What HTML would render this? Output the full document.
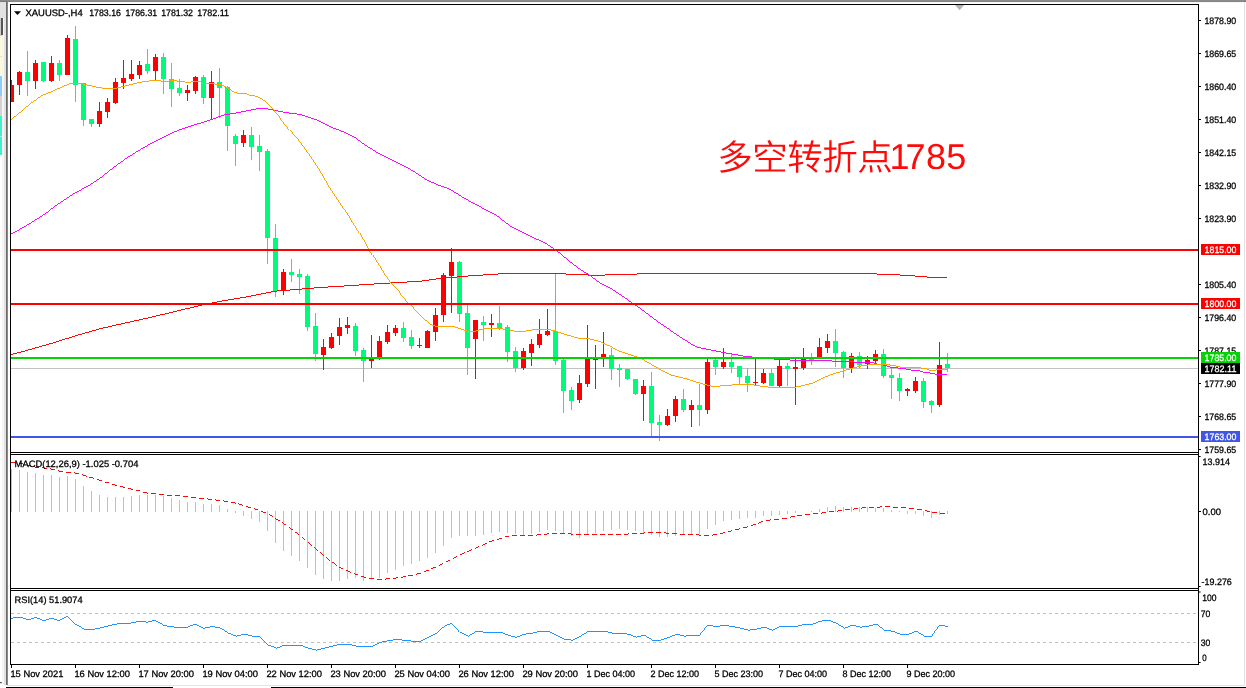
<!DOCTYPE html>
<html lang="zh"><head><meta charset="utf-8"><title>XAUUSD H4</title>
<style>html,body{margin:0;padding:0;background:#fff;overflow:hidden}svg{display:block;will-change:transform}text{stroke:#000;stroke-width:.28px}text.w{stroke:#fff}text.b{stroke:none}</style></head>
<body>
<svg width="1246" height="688" viewBox="0 0 1246 688" font-family='"Liberation Sans", "Noto Sans CJK SC", sans-serif' font-size="9.3" text-rendering="geometricPrecision">
<defs><clipPath id="cm"><rect x="11" y="5" width="1187" height="447"/></clipPath><clipPath id="cd"><rect x="11" y="455" width="1187" height="133"/></clipPath><clipPath id="cr"><rect x="11" y="591" width="1187" height="73"/></clipPath><linearGradient id="tg" x1="0" y1="0" x2="0" y2="1"><stop offset="0" stop-color="#9a9a9a"/><stop offset="1" stop-color="#5e5e5e"/></linearGradient></defs>
<rect width="1246" height="688" fill="#fff"/>
<rect x="0" y="0" width="1246" height="1.9" fill="url(#tg)"/>
<g shape-rendering="crispEdges">
<rect x="0" y="2" width="2" height="683" fill="#fff"/>
<rect x="2" y="2" width="2" height="683" fill="#f6f4f4"/>
<rect x="4" y="2" width="2" height="683" fill="#e2e2e2"/>
<rect x="0" y="2" width="6" height="16" fill="#e2e2e2"/>
<rect x="0" y="18" width="2.3" height="18" fill="#cacaca"/>
<rect x="1.4" y="18" width="1.2" height="17" fill="#555"/>
<rect x="0" y="36" width="2.3" height="40" fill="#fdfbd2"/>
<rect x="0" y="56" width="2.3" height="1" fill="#e4e2c8"/>
<rect x="0" y="76" width="2.3" height="20" fill="#8fcdf7"/>
<rect x="0" y="96" width="2.3" height="20" fill="#d2d2d2"/>
<rect x="0" y="116" width="2.3" height="39" fill="#44efd0"/>
<rect x="0" y="136" width="2.3" height="1" fill="#b8f4e8"/>
<rect x="6" y="2" width="1" height="683" fill="#6a6a6a"/>
<rect x="7" y="2" width="1" height="683" fill="#8a8a8a"/>
</g>
<rect x="8" y="1.9" width="1236" height="0.9" fill="#f4f4f4"/>
<rect x="1244" y="2" width="1" height="684" fill="#e4e4e4"/>
<rect x="7" y="685" width="1238" height="1" fill="#e4e4e4"/>
<rect x="6" y="687" width="167" height="1" fill="#000"/>
<rect x="271" y="687" width="975" height="1" fill="#000"/>
<rect x="0" y="682" width="1.7" height="1.2" fill="#444"/>
<g clip-path="url(#cm)">
<rect x="11" y="368" width="1187" height="1" fill="#c2c2c2"/>
<g shape-rendering="crispEdges">
<rect x="11" y="80" width="1" height="21.5" fill="#ff0000"/>
<rect x="9" y="85" width="5" height="16.5" fill="#ff0000"/>
<rect x="19" y="70.8" width="1" height="24.2" fill="#ff0000"/>
<rect x="17" y="72" width="5" height="13.3" fill="#ff0000"/>
<rect x="27" y="50.8" width="1" height="45.2" fill="#00fa7a"/>
<rect x="25" y="72" width="5" height="9.3" fill="#00fa7a"/>
<rect x="35" y="59.7" width="1" height="29.3" fill="#ff0000"/>
<rect x="33" y="62.7" width="5" height="18.6" fill="#ff0000"/>
<rect x="43" y="62" width="1" height="19.7" fill="#00fa7a"/>
<rect x="41" y="62" width="5" height="18.8" fill="#00fa7a"/>
<rect x="51" y="55.8" width="1" height="25.9" fill="#ff0000"/>
<rect x="49" y="63" width="5" height="17.8" fill="#ff0000"/>
<rect x="59" y="59.7" width="1" height="21.3" fill="#00fa7a"/>
<rect x="57" y="63" width="5" height="11.7" fill="#00fa7a"/>
<rect x="67" y="35" width="1" height="39.7" fill="#ff0000"/>
<rect x="65" y="38" width="5" height="36.7" fill="#ff0000"/>
<rect x="75" y="26" width="1" height="76" fill="#00fa7a"/>
<rect x="73" y="39.2" width="5" height="45.5" fill="#00fa7a"/>
<rect x="83" y="83" width="1" height="42.8" fill="#00fa7a"/>
<rect x="81" y="83" width="5" height="36.5" fill="#00fa7a"/>
<rect x="91" y="118.8" width="1" height="7.9" fill="#00fa7a"/>
<rect x="89" y="118.8" width="5" height="4.9" fill="#00fa7a"/>
<rect x="99" y="101.8" width="1" height="24.9" fill="#ff0000"/>
<rect x="97" y="110.8" width="5" height="12.9" fill="#ff0000"/>
<rect x="107" y="98" width="1" height="19.5" fill="#ff0000"/>
<rect x="105" y="101.7" width="5" height="9.8" fill="#ff0000"/>
<rect x="115" y="78" width="1" height="26" fill="#ff0000"/>
<rect x="113" y="81.7" width="5" height="21" fill="#ff0000"/>
<rect x="123" y="59.7" width="1" height="29.3" fill="#ff0000"/>
<rect x="121" y="77.5" width="5" height="5.5" fill="#ff0000"/>
<rect x="131" y="59.7" width="1" height="21.1" fill="#ff0000"/>
<rect x="129" y="73.7" width="5" height="5" fill="#ff0000"/>
<rect x="139" y="60.8" width="1" height="18.2" fill="#ff0000"/>
<rect x="137" y="65" width="5" height="9.7" fill="#ff0000"/>
<rect x="147" y="49.2" width="1" height="24.5" fill="#00fa7a"/>
<rect x="145" y="63.7" width="5" height="7.1" fill="#00fa7a"/>
<rect x="155" y="54.2" width="1" height="25.5" fill="#ff0000"/>
<rect x="153" y="57" width="5" height="13.8" fill="#ff0000"/>
<rect x="163" y="53" width="1" height="41" fill="#00fa7a"/>
<rect x="161" y="57" width="5" height="22" fill="#00fa7a"/>
<rect x="171" y="63" width="1" height="44" fill="#00fa7a"/>
<rect x="169" y="79" width="5" height="9.8" fill="#00fa7a"/>
<rect x="179" y="79" width="1" height="16.8" fill="#00fa7a"/>
<rect x="177" y="88" width="5" height="4.8" fill="#00fa7a"/>
<rect x="187" y="85" width="1" height="16" fill="#ff0000"/>
<rect x="185" y="90" width="5" height="2.8" fill="#ff0000"/>
<rect x="195" y="75.8" width="1" height="18.2" fill="#ff0000"/>
<rect x="193" y="76.9" width="5" height="13.9" fill="#ff0000"/>
<rect x="203" y="75" width="1" height="29" fill="#00fa7a"/>
<rect x="201" y="76.9" width="5" height="20.9" fill="#00fa7a"/>
<rect x="211" y="71" width="1" height="48" fill="#ff0000"/>
<rect x="209" y="82" width="5" height="15.8" fill="#ff0000"/>
<rect x="219" y="68" width="1" height="50" fill="#00fa7a"/>
<rect x="217" y="82" width="5" height="5.8" fill="#00fa7a"/>
<rect x="227" y="85.8" width="1" height="65.2" fill="#00fa7a"/>
<rect x="225" y="86.7" width="5" height="38.9" fill="#00fa7a"/>
<rect x="235" y="133.7" width="1" height="32.3" fill="#00fa7a"/>
<rect x="233" y="136" width="5" height="8" fill="#00fa7a"/>
<rect x="243" y="130" width="1" height="17" fill="#ff0000"/>
<rect x="241" y="135" width="5" height="8" fill="#ff0000"/>
<rect x="251" y="127" width="1" height="33" fill="#00fa7a"/>
<rect x="249" y="135" width="5" height="12" fill="#00fa7a"/>
<rect x="259" y="135" width="1" height="36" fill="#00fa7a"/>
<rect x="257" y="146" width="5" height="6" fill="#00fa7a"/>
<rect x="267" y="148.8" width="1" height="115.2" fill="#00fa7a"/>
<rect x="265" y="150.8" width="5" height="86.7" fill="#00fa7a"/>
<rect x="275" y="223.8" width="1" height="72.9" fill="#00fa7a"/>
<rect x="273" y="237.8" width="5" height="53.4" fill="#00fa7a"/>
<rect x="283" y="269.2" width="1" height="25.5" fill="#ff0000"/>
<rect x="281" y="272" width="5" height="19.2" fill="#ff0000"/>
<rect x="291" y="258.8" width="1" height="22.9" fill="#00fa7a"/>
<rect x="289" y="272" width="5" height="3" fill="#00fa7a"/>
<rect x="299" y="269.2" width="1" height="24.6" fill="#00fa7a"/>
<rect x="297" y="274.2" width="5" height="2.5" fill="#00fa7a"/>
<rect x="307" y="274.2" width="1" height="56.3" fill="#00fa7a"/>
<rect x="305" y="275.8" width="5" height="50.9" fill="#00fa7a"/>
<rect x="315" y="313" width="1" height="47.5" fill="#00fa7a"/>
<rect x="313" y="325.8" width="5" height="27.9" fill="#00fa7a"/>
<rect x="323" y="338.7" width="1" height="30.8" fill="#ff0000"/>
<rect x="321" y="346.7" width="5" height="8" fill="#ff0000"/>
<rect x="331" y="332.8" width="1" height="15.9" fill="#ff0000"/>
<rect x="329" y="336.7" width="5" height="11.1" fill="#ff0000"/>
<rect x="339" y="317.8" width="1" height="26.7" fill="#ff0000"/>
<rect x="337" y="326.7" width="5" height="8.8" fill="#ff0000"/>
<rect x="347" y="317" width="1" height="16.7" fill="#ff0000"/>
<rect x="345" y="325" width="5" height="2.5" fill="#ff0000"/>
<rect x="355" y="323" width="1" height="32.5" fill="#00fa7a"/>
<rect x="353" y="325.8" width="5" height="24.7" fill="#00fa7a"/>
<rect x="363" y="347.8" width="1" height="33.9" fill="#00fa7a"/>
<rect x="361" y="349.7" width="5" height="10.8" fill="#00fa7a"/>
<rect x="371" y="335" width="1" height="32.8" fill="#ff0000"/>
<rect x="369" y="358.5" width="5" height="2" fill="#ff0000"/>
<rect x="379" y="335.8" width="1" height="23.7" fill="#ff0000"/>
<rect x="377" y="340.8" width="5" height="17.2" fill="#ff0000"/>
<rect x="387" y="325" width="1" height="18.7" fill="#ff0000"/>
<rect x="385" y="331.7" width="5" height="10" fill="#ff0000"/>
<rect x="395" y="325" width="1" height="10.5" fill="#ff0000"/>
<rect x="393" y="327.8" width="5" height="5" fill="#ff0000"/>
<rect x="403" y="321.7" width="1" height="20" fill="#00fa7a"/>
<rect x="401" y="327.8" width="5" height="9.7" fill="#00fa7a"/>
<rect x="411" y="330" width="1" height="18.7" fill="#00fa7a"/>
<rect x="409" y="337" width="5" height="8.8" fill="#00fa7a"/>
<rect x="419" y="338" width="1" height="9.8" fill="#ff0000"/>
<rect x="417" y="344.7" width="5" height="1.1" fill="#ff0000"/>
<rect x="427" y="330" width="1" height="17.8" fill="#ff0000"/>
<rect x="425" y="331.2" width="5" height="16.6" fill="#ff0000"/>
<rect x="435" y="308" width="1" height="32.5" fill="#ff0000"/>
<rect x="433" y="315" width="5" height="16.5" fill="#ff0000"/>
<rect x="443" y="273" width="1" height="48.5" fill="#ff0000"/>
<rect x="441" y="275" width="5" height="39.6" fill="#ff0000"/>
<rect x="451" y="248" width="1" height="64.5" fill="#ff0000"/>
<rect x="449" y="262" width="5" height="13.5" fill="#ff0000"/>
<rect x="459" y="260.8" width="1" height="60.7" fill="#00fa7a"/>
<rect x="457" y="262" width="5" height="51.5" fill="#00fa7a"/>
<rect x="467" y="305" width="1" height="69.7" fill="#00fa7a"/>
<rect x="465" y="312.8" width="5" height="35" fill="#00fa7a"/>
<rect x="475" y="320" width="1" height="58.7" fill="#ff0000"/>
<rect x="473" y="320" width="5" height="18.5" fill="#ff0000"/>
<rect x="483" y="315.8" width="1" height="24.7" fill="#00fa7a"/>
<rect x="481" y="322" width="5" height="2.7" fill="#00fa7a"/>
<rect x="491" y="314" width="1" height="22.8" fill="#ff0000"/>
<rect x="489" y="323" width="5" height="1.8" fill="#ff0000"/>
<rect x="499" y="306" width="1" height="23.8" fill="#00fa7a"/>
<rect x="497" y="323" width="5" height="4.6" fill="#00fa7a"/>
<rect x="507" y="324.7" width="1" height="37" fill="#00fa7a"/>
<rect x="505" y="326.7" width="5" height="25" fill="#00fa7a"/>
<rect x="515" y="347" width="1" height="24.7" fill="#00fa7a"/>
<rect x="513" y="350.8" width="5" height="16.7" fill="#00fa7a"/>
<rect x="523" y="347.8" width="1" height="21.9" fill="#ff0000"/>
<rect x="521" y="350.8" width="5" height="17" fill="#ff0000"/>
<rect x="531" y="338.8" width="1" height="26.7" fill="#ff0000"/>
<rect x="529" y="343.7" width="5" height="8.8" fill="#ff0000"/>
<rect x="539" y="318.8" width="1" height="29" fill="#ff0000"/>
<rect x="537" y="333.8" width="5" height="10.9" fill="#ff0000"/>
<rect x="547" y="308.8" width="1" height="27" fill="#ff0000"/>
<rect x="545" y="330.8" width="5" height="3.9" fill="#ff0000"/>
<rect x="555" y="273.7" width="1" height="91" fill="#00fa7a"/>
<rect x="553" y="330.5" width="5" height="30" fill="#00fa7a"/>
<rect x="563" y="358.7" width="1" height="54.6" fill="#00fa7a"/>
<rect x="561" y="359.7" width="5" height="30.8" fill="#00fa7a"/>
<rect x="571" y="386.7" width="1" height="22.8" fill="#00fa7a"/>
<rect x="569" y="389.7" width="5" height="11.6" fill="#00fa7a"/>
<rect x="579" y="375" width="1" height="28.3" fill="#ff0000"/>
<rect x="577" y="382.8" width="5" height="16.7" fill="#ff0000"/>
<rect x="587" y="325" width="1" height="62" fill="#ff0000"/>
<rect x="585" y="357.5" width="5" height="26.5" fill="#ff0000"/>
<rect x="595" y="344.7" width="1" height="44" fill="#ff0000"/>
<rect x="593" y="358.3" width="5" height="1.4" fill="#ff0000"/>
<rect x="603" y="331.7" width="1" height="35" fill="#ff0000"/>
<rect x="601" y="354.2" width="5" height="3.3" fill="#ff0000"/>
<rect x="611" y="347.8" width="1" height="32.2" fill="#00fa7a"/>
<rect x="609" y="354.7" width="5" height="14.3" fill="#00fa7a"/>
<rect x="619" y="364" width="1" height="23" fill="#00fa7a"/>
<rect x="617" y="368" width="5" height="2" fill="#00fa7a"/>
<rect x="627" y="368.5" width="1" height="11.5" fill="#00fa7a"/>
<rect x="625" y="369" width="5" height="10" fill="#00fa7a"/>
<rect x="635" y="378.7" width="1" height="16" fill="#00fa7a"/>
<rect x="633" y="378.7" width="5" height="15" fill="#00fa7a"/>
<rect x="643" y="379.8" width="1" height="40.7" fill="#ff0000"/>
<rect x="641" y="385.8" width="5" height="7.9" fill="#ff0000"/>
<rect x="651" y="371.8" width="1" height="64" fill="#00fa7a"/>
<rect x="649" y="385.8" width="5" height="36.7" fill="#00fa7a"/>
<rect x="659" y="415" width="1" height="26.3" fill="#00fa7a"/>
<rect x="657" y="421.7" width="5" height="3" fill="#00fa7a"/>
<rect x="667" y="408.8" width="1" height="17" fill="#ff0000"/>
<rect x="665" y="415.8" width="5" height="9.2" fill="#ff0000"/>
<rect x="675" y="395.6" width="1" height="26.1" fill="#ff0000"/>
<rect x="673" y="398.7" width="5" height="17.1" fill="#ff0000"/>
<rect x="683" y="388.8" width="1" height="22.7" fill="#00fa7a"/>
<rect x="681" y="398.7" width="5" height="10.9" fill="#00fa7a"/>
<rect x="691" y="399.7" width="1" height="27" fill="#ff0000"/>
<rect x="689" y="404.7" width="5" height="5.7" fill="#ff0000"/>
<rect x="699" y="383.7" width="1" height="41.8" fill="#00fa7a"/>
<rect x="697" y="404.9" width="5" height="4.7" fill="#00fa7a"/>
<rect x="707" y="359.2" width="1" height="54.5" fill="#ff0000"/>
<rect x="705" y="362.2" width="5" height="47.5" fill="#ff0000"/>
<rect x="715" y="358.8" width="1" height="15.9" fill="#00fa7a"/>
<rect x="713" y="360" width="5" height="6.7" fill="#00fa7a"/>
<rect x="723" y="348" width="1" height="20.7" fill="#ff0000"/>
<rect x="721" y="361.7" width="5" height="5" fill="#ff0000"/>
<rect x="731" y="354.2" width="1" height="18.3" fill="#00fa7a"/>
<rect x="729" y="361.7" width="5" height="5" fill="#00fa7a"/>
<rect x="739" y="365.8" width="1" height="17.9" fill="#00fa7a"/>
<rect x="737" y="365.8" width="5" height="10.9" fill="#00fa7a"/>
<rect x="747" y="368.3" width="1" height="23.4" fill="#00fa7a"/>
<rect x="745" y="375.8" width="5" height="7.2" fill="#00fa7a"/>
<rect x="755" y="358.8" width="1" height="26.2" fill="#ff0000"/>
<rect x="753" y="381.7" width="5" height="1.3" fill="#ff0000"/>
<rect x="763" y="368.8" width="1" height="14.9" fill="#ff0000"/>
<rect x="761" y="372.8" width="5" height="10.2" fill="#ff0000"/>
<rect x="771" y="368.8" width="1" height="17" fill="#00fa7a"/>
<rect x="769" y="372.8" width="5" height="13" fill="#00fa7a"/>
<rect x="779" y="359.5" width="1" height="27.3" fill="#ff0000"/>
<rect x="777" y="365.8" width="5" height="20" fill="#ff0000"/>
<rect x="787" y="363" width="1" height="22.5" fill="#00fa7a"/>
<rect x="785" y="365.8" width="5" height="2.9" fill="#00fa7a"/>
<rect x="795" y="358.8" width="1" height="45.9" fill="#ff0000"/>
<rect x="793" y="366.8" width="5" height="1.9" fill="#ff0000"/>
<rect x="803" y="348" width="1" height="21.7" fill="#ff0000"/>
<rect x="801" y="358.8" width="5" height="8.7" fill="#ff0000"/>
<rect x="811" y="353" width="1" height="11.7" fill="#00fa7a"/>
<rect x="809" y="358.8" width="5" height="1.2" fill="#00fa7a"/>
<rect x="819" y="337.8" width="1" height="21.4" fill="#ff0000"/>
<rect x="817" y="347" width="5" height="12.2" fill="#ff0000"/>
<rect x="827" y="333.8" width="1" height="18.7" fill="#ff0000"/>
<rect x="825" y="340.8" width="5" height="6.7" fill="#ff0000"/>
<rect x="835" y="328.8" width="1" height="37.9" fill="#00fa7a"/>
<rect x="833" y="340.8" width="5" height="11.7" fill="#00fa7a"/>
<rect x="843" y="350.8" width="1" height="27" fill="#00fa7a"/>
<rect x="841" y="351.7" width="5" height="15.8" fill="#00fa7a"/>
<rect x="851" y="352.8" width="1" height="20" fill="#ff0000"/>
<rect x="849" y="356.2" width="5" height="11.3" fill="#ff0000"/>
<rect x="859" y="351.7" width="1" height="16.6" fill="#00fa7a"/>
<rect x="857" y="356.2" width="5" height="8.5" fill="#00fa7a"/>
<rect x="867" y="355.8" width="1" height="12.9" fill="#ff0000"/>
<rect x="865" y="360" width="5" height="3.7" fill="#ff0000"/>
<rect x="875" y="350" width="1" height="12.5" fill="#ff0000"/>
<rect x="873" y="353.8" width="5" height="6.7" fill="#ff0000"/>
<rect x="883" y="348.8" width="1" height="29.5" fill="#00fa7a"/>
<rect x="881" y="353.8" width="5" height="21.7" fill="#00fa7a"/>
<rect x="891" y="367.5" width="1" height="31.2" fill="#00fa7a"/>
<rect x="889" y="375" width="5" height="3.3" fill="#00fa7a"/>
<rect x="899" y="373" width="1" height="27.8" fill="#00fa7a"/>
<rect x="897" y="377.8" width="5" height="12.7" fill="#00fa7a"/>
<rect x="907" y="387.5" width="1" height="8.3" fill="#ff0000"/>
<rect x="905" y="388.8" width="5" height="1.7" fill="#ff0000"/>
<rect x="915" y="376.7" width="1" height="15.8" fill="#ff0000"/>
<rect x="913" y="380.8" width="5" height="9.7" fill="#ff0000"/>
<rect x="923" y="377.8" width="1" height="30" fill="#00fa7a"/>
<rect x="921" y="380.8" width="5" height="20.9" fill="#00fa7a"/>
<rect x="931" y="399.7" width="1" height="12.8" fill="#00fa7a"/>
<rect x="929" y="400.8" width="5" height="3.7" fill="#00fa7a"/>
<rect x="939" y="342" width="1" height="64.7" fill="#ff0000"/>
<rect x="937" y="364.7" width="5" height="39.8" fill="#ff0000"/>
<rect x="947" y="353" width="1" height="18.7" fill="#00fa7a"/>
<rect x="945" y="363.8" width="5" height="4.5" fill="#00fa7a"/>
</g>
<polyline points="11,354.6 30,349.6 50,343.8 75,336 100,328.8 125,323 150,317.5 175,311.5 200,305.5 208,303.8 225,300.5 250,296.3 275,291.2 290,290 310,288.3 328,287 353,285.4 396,282.6 420,281.3 440,278.5 470,275.8 500,273.9 530,273.5 560,273.6 575,274.6 600,275.4 615,274.3 660,273.7 720,273.3 870,273.3 880,274.3 900,275 915,276 930,277.3 946.5,278" fill="none" stroke="#ff0000" stroke-width="0.98" shape-rendering="crispEdges"/>
<polyline points="11,234.2 25,226.5 44,214.7 58,204 64,200 75,193 88,186 100,178.3 112,168.8 125,159.2 138,151 150,144 162,138 171,133.3 181,129.3 192,125.5 202,122.6 213,119 223,115.2 233,113.5 244,111.4 254,109.3 259,108.4 264,108.3 271,109.7 280,111.4 285,112.5 300,114.4 315,119.2 330,126.7 345,132.5 355,137.5 365,145 380,154.2 397,162.5 413,170.8 427,180 438,185 450,189.2 463,197.5 480,206.7 497,215.8 510,225.8 530,235.8 547,244.2 557,250.8 573,264.2 580,269.2 590,275.5 600,283 610,288 628,300 640,308.3 650,315.8 660,323.3 670,330 680,336.7 690,343.3 698,347.5 708,349.4 715,350.8 730,353.7 745,356.3 760,357.8 776,359.2 790,360 810,360 825,360.5 835,361.2 848,361.3 856,362.3 871,362.4 875,363.2 879,364.6 885,365.2 890,367 895,367.5 899,368.2 903,368.5 908,369.4 912,370.2 920,370.9 924,372.2 928,372.6 932,373.6 936,374.2 946.5,374.5" fill="none" stroke="#ff00ff" stroke-width="0.98" shape-rendering="crispEdges"/>
<polyline points="11,119.8 20,112.5 30,104 41,96 50,92.3 60,87.8 70,83.7 75,83.2 83,84 95,86.8 106,88.6 115,88.5 128,85.3 140,82.3 147,81.2 153,80.7 159,80.7 163,81.5 168,81.6 170,80.6 175,80.5 178,81.3 183,81.4 186,82.4 190,82.4 193,81.4 200,81.4 203,83.5 213,83.7 218,84.5 221,84.7 225,86.4 230,89.5 235,92.6 240,93.6 246,93.7 250,95.6 255,95.8 262,98.7 270,105.8 280,117.5 290,130 300,141.7 310,155.8 320,170.8 330,188.3 340,203.3 350,217.5 360,233.3 368,247.5 375,258.3 385,274.7 390,281.7 400,292.5 410,304.2 420,315 430,324.2 437,326.7 452,326 460,328.5 468,331.2 475,331.2 483,329 495,328 505,329.2 515,331.2 525,331.2 535,329.5 548,329.3 555,330.8 565,334.5 578,338 590,339 600,341.5 610,346.2 620,351.5 632,355.2 642,359 652,364.8 662,370.5 672,375.3 685,378.5 695,381.7 703,384 712,386.3 725,385.8 735,384.7 750,384.2 760,386 770,387.2 785,387.5 795,387.2 802,385.8 812,383.3 822,378.3 832,374.2 842,371.3 852,368.3 862,365.8 872,364.4 880,364.4 890,365 893,365.3 897.6,366.3 902,367.5 919,367.6 926,368.8 930,370.2 935,370.3 938,369.2 946.5,369" fill="none" stroke="#ffa200" stroke-width="0.98" shape-rendering="crispEdges"/>
<rect x="11" y="249" width="1187" height="2" fill="#ff0000"/>
<rect x="11" y="303" width="1187" height="2" fill="#ff0000"/>
<rect x="11" y="357" width="1187" height="2" fill="#04d204"/>
<rect x="11" y="436" width="1187" height="2" fill="#4155e6"/>
</g>
<path d="M14 11.2h7l-3.5 3.9z" fill="#000"/>
<text y="16.1"><tspan x="25.5" textLength="57.2" lengthAdjust="spacingAndGlyphs">XAUUSD-,H4</tspan><tspan x="89.2" textLength="31.8" lengthAdjust="spacingAndGlyphs">1783.16</tspan><tspan x="125.4" textLength="31.8" lengthAdjust="spacingAndGlyphs">1786.31</tspan><tspan x="161.2" textLength="31.8" lengthAdjust="spacingAndGlyphs">1781.32</tspan><tspan x="197.2" textLength="31.8" lengthAdjust="spacingAndGlyphs">1782.11</tspan></text>
<path d="M955 5h9.2l-4.6 5.2z" fill="#b4b4b4"/>
<text class="b" y="169.9" font-size="35.5" font-weight="350" fill="#ff0a0a" x="717.2 752.24 787.28 822.32 857.36">多空转折点<tspan font-size="36" font-weight="400" dy="-0.7" x="889.6 905.6 925.9 946.3">1785</tspan></text>
<g clip-path="url(#cd)">
<g shape-rendering="crispEdges">
<rect x="11" y="468.5" width="1" height="43.3" fill="#c0c0c0"/>
<rect x="19" y="470" width="1" height="41.8" fill="#c0c0c0"/>
<rect x="27" y="471.7" width="1" height="40.1" fill="#c0c0c0"/>
<rect x="35" y="472.8" width="1" height="39" fill="#c0c0c0"/>
<rect x="43" y="474.7" width="1" height="37.1" fill="#c0c0c0"/>
<rect x="51" y="474.7" width="1" height="37.1" fill="#c0c0c0"/>
<rect x="59" y="476.7" width="1" height="35.1" fill="#c0c0c0"/>
<rect x="67" y="475.8" width="1" height="36" fill="#c0c0c0"/>
<rect x="75" y="478.7" width="1" height="33.1" fill="#c0c0c0"/>
<rect x="83" y="485.8" width="1" height="26" fill="#c0c0c0"/>
<rect x="91" y="490.8" width="1" height="21" fill="#c0c0c0"/>
<rect x="99" y="494.7" width="1" height="17.1" fill="#c0c0c0"/>
<rect x="107" y="496.7" width="1" height="15.1" fill="#c0c0c0"/>
<rect x="115" y="497" width="1" height="14.8" fill="#c0c0c0"/>
<rect x="123" y="496.7" width="1" height="15.1" fill="#c0c0c0"/>
<rect x="131" y="495.8" width="1" height="16" fill="#c0c0c0"/>
<rect x="139" y="495.3" width="1" height="16.5" fill="#c0c0c0"/>
<rect x="147" y="495.3" width="1" height="16.5" fill="#c0c0c0"/>
<rect x="155" y="495" width="1" height="16.8" fill="#c0c0c0"/>
<rect x="163" y="495.8" width="1" height="16" fill="#c0c0c0"/>
<rect x="171" y="498" width="1" height="13.8" fill="#c0c0c0"/>
<rect x="179" y="500" width="1" height="11.8" fill="#c0c0c0"/>
<rect x="187" y="501.7" width="1" height="10.1" fill="#c0c0c0"/>
<rect x="195" y="502" width="1" height="9.8" fill="#c0c0c0"/>
<rect x="203" y="503.7" width="1" height="8.1" fill="#c0c0c0"/>
<rect x="211" y="503.7" width="1" height="8.1" fill="#c0c0c0"/>
<rect x="219" y="505" width="1" height="6.8" fill="#c0c0c0"/>
<rect x="227" y="508.7" width="1" height="3.1" fill="#c0c0c0"/>
<rect x="235" y="510.8" width="1" height="1.7" fill="#c0c0c0"/>
<rect x="243" y="510.8" width="1" height="4.7" fill="#c0c0c0"/>
<rect x="251" y="510.8" width="1" height="7.9" fill="#c0c0c0"/>
<rect x="259" y="510.8" width="1" height="10.9" fill="#c0c0c0"/>
<rect x="267" y="510.8" width="1" height="20.4" fill="#c0c0c0"/>
<rect x="275" y="510.8" width="1" height="32.4" fill="#c0c0c0"/>
<rect x="283" y="510.8" width="1" height="40.4" fill="#c0c0c0"/>
<rect x="291" y="510.8" width="1" height="45.4" fill="#c0c0c0"/>
<rect x="299" y="510.8" width="1" height="49.7" fill="#c0c0c0"/>
<rect x="307" y="510.8" width="1" height="56.7" fill="#c0c0c0"/>
<rect x="315" y="510.8" width="1" height="63.7" fill="#c0c0c0"/>
<rect x="323" y="510.8" width="1" height="68.4" fill="#c0c0c0"/>
<rect x="331" y="510.8" width="1" height="69.7" fill="#c0c0c0"/>
<rect x="339" y="510.8" width="1" height="69.7" fill="#c0c0c0"/>
<rect x="347" y="510.8" width="1" height="68.4" fill="#c0c0c0"/>
<rect x="355" y="510.8" width="1" height="67.4" fill="#c0c0c0"/>
<rect x="363" y="510.8" width="1" height="69.7" fill="#c0c0c0"/>
<rect x="371" y="510.8" width="1" height="68.4" fill="#c0c0c0"/>
<rect x="379" y="510.8" width="1" height="66.7" fill="#c0c0c0"/>
<rect x="387" y="510.8" width="1" height="62.2" fill="#c0c0c0"/>
<rect x="395" y="510.8" width="1" height="58.7" fill="#c0c0c0"/>
<rect x="403" y="510.8" width="1" height="55.4" fill="#c0c0c0"/>
<rect x="411" y="510.8" width="1" height="53.4" fill="#c0c0c0"/>
<rect x="419" y="510.8" width="1" height="50.4" fill="#c0c0c0"/>
<rect x="427" y="510.8" width="1" height="46.7" fill="#c0c0c0"/>
<rect x="435" y="510.8" width="1" height="41.7" fill="#c0c0c0"/>
<rect x="443" y="510.8" width="1" height="34.7" fill="#c0c0c0"/>
<rect x="451" y="510.8" width="1" height="26.7" fill="#c0c0c0"/>
<rect x="459" y="510.8" width="1" height="24.7" fill="#c0c0c0"/>
<rect x="467" y="510.8" width="1" height="25.4" fill="#c0c0c0"/>
<rect x="475" y="510.8" width="1" height="24.7" fill="#c0c0c0"/>
<rect x="483" y="510.8" width="1" height="23.7" fill="#c0c0c0"/>
<rect x="491" y="510.8" width="1" height="21.7" fill="#c0c0c0"/>
<rect x="499" y="510.8" width="1" height="20.9" fill="#c0c0c0"/>
<rect x="507" y="510.8" width="1" height="21.7" fill="#c0c0c0"/>
<rect x="515" y="510.8" width="1" height="22.9" fill="#c0c0c0"/>
<rect x="523" y="510.8" width="1" height="23.7" fill="#c0c0c0"/>
<rect x="531" y="510.8" width="1" height="22.9" fill="#c0c0c0"/>
<rect x="539" y="510.8" width="1" height="21.2" fill="#c0c0c0"/>
<rect x="547" y="510.8" width="1" height="19.2" fill="#c0c0c0"/>
<rect x="555" y="510.8" width="1" height="20.4" fill="#c0c0c0"/>
<rect x="563" y="510.8" width="1" height="22.9" fill="#c0c0c0"/>
<rect x="571" y="510.8" width="1" height="25.4" fill="#c0c0c0"/>
<rect x="579" y="510.8" width="1" height="26.7" fill="#c0c0c0"/>
<rect x="587" y="510.8" width="1" height="23.7" fill="#c0c0c0"/>
<rect x="595" y="510.8" width="1" height="22.2" fill="#c0c0c0"/>
<rect x="603" y="510.8" width="1" height="20.4" fill="#c0c0c0"/>
<rect x="611" y="510.8" width="1" height="19.2" fill="#c0c0c0"/>
<rect x="619" y="510.8" width="1" height="18.4" fill="#c0c0c0"/>
<rect x="627" y="510.8" width="1" height="18.7" fill="#c0c0c0"/>
<rect x="635" y="510.8" width="1" height="19.9" fill="#c0c0c0"/>
<rect x="643" y="510.8" width="1" height="21.7" fill="#c0c0c0"/>
<rect x="651" y="510.8" width="1" height="23.7" fill="#c0c0c0"/>
<rect x="659" y="510.8" width="1" height="25.9" fill="#c0c0c0"/>
<rect x="667" y="510.8" width="1" height="25.9" fill="#c0c0c0"/>
<rect x="675" y="510.8" width="1" height="24.7" fill="#c0c0c0"/>
<rect x="683" y="510.8" width="1" height="24.2" fill="#c0c0c0"/>
<rect x="691" y="510.8" width="1" height="23.7" fill="#c0c0c0"/>
<rect x="699" y="510.8" width="1" height="22.9" fill="#c0c0c0"/>
<rect x="707" y="510.8" width="1" height="17.9" fill="#c0c0c0"/>
<rect x="715" y="510.8" width="1" height="14.2" fill="#c0c0c0"/>
<rect x="723" y="510.8" width="1" height="10.4" fill="#c0c0c0"/>
<rect x="731" y="510.8" width="1" height="8.7" fill="#c0c0c0"/>
<rect x="739" y="510.8" width="1" height="7.9" fill="#c0c0c0"/>
<rect x="747" y="510.8" width="1" height="7.2" fill="#c0c0c0"/>
<rect x="755" y="510.8" width="1" height="6.7" fill="#c0c0c0"/>
<rect x="763" y="510.8" width="1" height="5.4" fill="#c0c0c0"/>
<rect x="771" y="510.8" width="1" height="4.9" fill="#c0c0c0"/>
<rect x="779" y="510.8" width="1" height="4.2" fill="#c0c0c0"/>
<rect x="787" y="510.8" width="1" height="3.4" fill="#c0c0c0"/>
<rect x="795" y="510.8" width="1" height="2" fill="#c0c0c0"/>
<rect x="811" y="510.5" width="1" height="1.3" fill="#c0c0c0"/>
<rect x="819" y="508.7" width="1" height="3.1" fill="#c0c0c0"/>
<rect x="827" y="507" width="1" height="4.8" fill="#c0c0c0"/>
<rect x="835" y="505.7" width="1" height="6.1" fill="#c0c0c0"/>
<rect x="843" y="507" width="1" height="4.8" fill="#c0c0c0"/>
<rect x="851" y="506.7" width="1" height="5.1" fill="#c0c0c0"/>
<rect x="859" y="506.7" width="1" height="5.1" fill="#c0c0c0"/>
<rect x="867" y="506.7" width="1" height="5.1" fill="#c0c0c0"/>
<rect x="875" y="507.5" width="1" height="4.3" fill="#c0c0c0"/>
<rect x="883" y="508" width="1" height="3.8" fill="#c0c0c0"/>
<rect x="891" y="509.5" width="1" height="2.3" fill="#c0c0c0"/>
<rect x="899" y="510.5" width="1" height="1.3" fill="#c0c0c0"/>
<rect x="907" y="510.8" width="1" height="2.9" fill="#c0c0c0"/>
<rect x="915" y="510.8" width="1" height="2.9" fill="#c0c0c0"/>
<rect x="923" y="510.8" width="1" height="4.7" fill="#c0c0c0"/>
<rect x="931" y="510.8" width="1" height="6.7" fill="#c0c0c0"/>
<rect x="939" y="510.8" width="1" height="4.2" fill="#c0c0c0"/>
<rect x="947" y="510.8" width="1" height="3.4" fill="#c0c0c0"/>
</g>
<polyline points="11,462 19,463 35,467 50,468.7 60,471.3 75,473 83,475 100,480.3 115,485 130,488.8 147,493 165,495 185,496.3 193,497.5 205,498.7 220,500.5 230,501.7 240,504.2 250,507.5 260,510.5 270,515 280,521.2 290,528 300,535.5 310,543.7 320,552.5 330,560.5 340,567.5 350,572 360,575.7 370,578.7 380,579.5 390,578.7 400,577.5 410,575.7 420,573.2 430,569.5 440,565 450,560 460,555 470,550.5 480,546.2 490,541.5 500,538.7 507,536.2 515,535.2 535,535.2 545,534.2 555,533.2 565,533.2 572,534.2 625,534.2 640,533.2 655,532.5 662,532.5 670,533.5 680,534.2 695,534.2 700,535.2 712,535.2 720,533.7 727,532 735,530 745,527.5 755,524.5 765,520.5 775,519.5 785,518.5 795,516.2 803,515.2 812,514.2 820,513.2 828,512.2 836,511.2 844,510.2 852,509.2 860,508.2 868,507.5 876,507.5 884,506.5 892,507.2 900,507.2 908,508.2 916,509.2 924,510.2 932,512.2 940,513.2 947,514" fill="none" stroke="#ff0000" stroke-width="0.98" stroke-dasharray="5 3" shape-rendering="crispEdges"/>
</g>
<text x="14.6" y="466.8" textLength="123.8" lengthAdjust="spacingAndGlyphs">MACD(12,26,9) -1.025 -0.704</text>
<g clip-path="url(#cr)">
<line x1="11" y1="613.5" x2="1198" y2="613.5" stroke="#c0c0c0" stroke-width="1" stroke-dasharray="3 3" shape-rendering="crispEdges"/>
<line x1="11" y1="642.5" x2="1198" y2="642.5" stroke="#c0c0c0" stroke-width="1" stroke-dasharray="3 3" shape-rendering="crispEdges"/>
<polyline points="11,618.3 17,617.3 21,617.2 27.5,619.7 35,617.2 43.5,620.5 51,618 59,620.5 67,616.3 75.5,624.7 83.5,629.3 94,629.3 100,628 108,626 115,624.3 122,623 131,623 139,621.3 143,621.3 147,622.3 154.5,620.5 163,625.2 168,626.3 177,627.3 187,627.3 195,624.2 203.5,628.2 211.5,626.5 219.5,628 227.5,633.2 235.5,636.2 243.5,634.2 251.5,636.2 259.5,636.2 267.5,645 275.5,648.2 283.5,645.2 291.5,645.2 299.5,645.2 307.5,648.2 315.5,650.2 323.5,648.2 331.5,646.2 339.5,644.2 347.5,644.2 355.5,646.2 363.5,646.2 371.5,646.2 379.5,642.2 387.5,640.7 395.5,639.5 403.5,640.2 411.5,641.2 419.5,641.2 427.5,637.5 435.5,633.2 443.5,626.2 451.5,623 459.5,632.2 467.5,636.2 475.5,631.2 483.5,632.2 491.5,632.2 499.5,632.2 507.5,635.2 515.5,637.2 523.5,634.2 531.5,633.2 539.5,631.2 547.5,631.2 555.5,635.2 563.5,639.2 571.5,640.2 579.5,636.2 587.5,631.2 595.5,631.2 603.5,631.2 611.5,633.2 619.5,633.2 627.5,634.2 635.5,637.2 643.5,635.2 651.5,640.2 659.5,640.2 667.5,637.5 675.5,634.2 683.5,636.2 691.5,635.2 699.5,635.2 707.5,625.2 715.5,626.5 723.5,625.2 731.5,626.5 739.5,628.2 747.5,630.2 755.5,629.2 763.5,627.2 771.5,630.2 779.5,626.2 787.5,626.2 795.5,626.4 803.5,624.2 811.5,624.2 819.5,621.2 827.5,620.2 835.5,623.2 843.5,628.2 851.5,625.2 859.5,627.2 867.5,626.2 875.5,624.2 883.5,630.2 891.5,631.2 899.5,634.2 907.5,634.2 915.5,631.2 923.5,636.2 931.5,636.2 939.5,625.2 947.5,626.5" fill="none" stroke="#1e90ff" stroke-width="0.98" shape-rendering="crispEdges"/>
</g>
<text x="14.6" y="602.6" textLength="68" lengthAdjust="spacingAndGlyphs">RSI(14) 51.9074</text>
<g fill="#000">
<rect x="10" y="4" width="1" height="661"/>
<rect x="1198" y="4" width="1" height="661"/>
<rect x="10" y="4" width="1189" height="1"/>
<rect x="10" y="452" width="1189" height="1"/>
<rect x="10" y="454" width="1189" height="1"/>
<rect x="10" y="588" width="1189" height="1"/>
<rect x="10" y="590" width="1189" height="1"/>
<rect x="10" y="664" width="1189" height="1"/>
</g>
<rect x="1199" y="20" width="2" height="1" fill="#000"/>
<text x="1204.4" y="23.9" textLength="31.8" lengthAdjust="spacingAndGlyphs">1878.90</text>
<rect x="1199" y="53" width="2" height="1" fill="#000"/>
<text x="1204.4" y="56.9" textLength="31.8" lengthAdjust="spacingAndGlyphs">1869.65</text>
<rect x="1199" y="86" width="2" height="1" fill="#000"/>
<text x="1204.4" y="89.9" textLength="31.8" lengthAdjust="spacingAndGlyphs">1860.40</text>
<rect x="1199" y="119" width="2" height="1" fill="#000"/>
<text x="1204.4" y="122.9" textLength="31.8" lengthAdjust="spacingAndGlyphs">1851.40</text>
<rect x="1199" y="152" width="2" height="1" fill="#000"/>
<text x="1204.4" y="155.9" textLength="31.8" lengthAdjust="spacingAndGlyphs">1842.15</text>
<rect x="1199" y="185" width="2" height="1" fill="#000"/>
<text x="1204.4" y="188.9" textLength="31.8" lengthAdjust="spacingAndGlyphs">1832.90</text>
<rect x="1199" y="218" width="2" height="1" fill="#000"/>
<text x="1204.4" y="221.9" textLength="31.8" lengthAdjust="spacingAndGlyphs">1823.90</text>
<rect x="1199" y="284" width="2" height="1" fill="#000"/>
<text x="1204.4" y="287.9" textLength="31.8" lengthAdjust="spacingAndGlyphs">1805.40</text>
<rect x="1199" y="317" width="2" height="1" fill="#000"/>
<text x="1204.4" y="320.9" textLength="31.8" lengthAdjust="spacingAndGlyphs">1796.40</text>
<rect x="1199" y="350" width="2" height="1" fill="#000"/>
<text x="1204.4" y="353.9" textLength="31.8" lengthAdjust="spacingAndGlyphs">1787.15</text>
<rect x="1199" y="383" width="2" height="1" fill="#000"/>
<text x="1204.4" y="386.9" textLength="31.8" lengthAdjust="spacingAndGlyphs">1777.90</text>
<rect x="1199" y="416" width="2" height="1" fill="#000"/>
<text x="1204.4" y="419.9" textLength="31.8" lengthAdjust="spacingAndGlyphs">1768.65</text>
<rect x="1199" y="449" width="2" height="1" fill="#000"/>
<text x="1204.4" y="452.9" textLength="31.8" lengthAdjust="spacingAndGlyphs">1759.65</text>
<rect x="1201" y="244" width="39" height="11" fill="#ff0000"/>
<text x="1204.6" y="252.9" textLength="31.8" lengthAdjust="spacingAndGlyphs" fill="#fff" class="w">1815.00</text>
<rect x="1201" y="298" width="39" height="11" fill="#ff0000"/>
<text x="1204.6" y="306.9" textLength="31.8" lengthAdjust="spacingAndGlyphs" fill="#fff" class="w">1800.00</text>
<rect x="1201" y="352" width="39" height="11" fill="#04d204"/>
<text x="1204.6" y="360.9" textLength="31.8" lengthAdjust="spacingAndGlyphs" fill="#fff" class="w">1785.00</text>
<rect x="1201" y="363" width="39" height="11" fill="#000"/>
<text x="1204.6" y="371.9" textLength="31.8" lengthAdjust="spacingAndGlyphs" fill="#fff" class="w">1782.11</text>
<rect x="1201" y="431" width="39" height="11" fill="#4155e6"/>
<text x="1204.6" y="439.9" textLength="31.8" lengthAdjust="spacingAndGlyphs" fill="#fff" class="w">1763.00</text>
<rect x="1199" y="456" width="1.6" height="1" fill="#000"/>
<text x="1202.6" y="464.8" textLength="27.4" lengthAdjust="spacingAndGlyphs">13.914</text>
<rect x="1199" y="511" width="2" height="1" fill="#000"/>
<text x="1202.6" y="514.8" textLength="18.4" lengthAdjust="spacingAndGlyphs">0.00</text>
<rect x="1199" y="586" width="1.6" height="1" fill="#000"/>
<text x="1201.6" y="585.1" textLength="30.2" lengthAdjust="spacingAndGlyphs">-19.276</text>
<rect x="1199" y="591.5" width="1.6" height="1" fill="#000"/>
<text x="1202.2" y="600.9" textLength="14.2" lengthAdjust="spacingAndGlyphs">100</text>
<text x="1200.8" y="616.8" textLength="9.6" lengthAdjust="spacingAndGlyphs">70</text>
<text x="1200.8" y="645.8" textLength="9.6" lengthAdjust="spacingAndGlyphs">30</text>
<text x="1202.2" y="660.6" textLength="4.4" lengthAdjust="spacingAndGlyphs">0</text>
<rect x="1199" y="662" width="1.6" height="1" fill="#000"/>
<rect x="11" y="665" width="1" height="3" fill="#000"/>
<text x="10.4" y="676.9" textLength="53" lengthAdjust="spacingAndGlyphs">15 Nov 2021</text>
<rect x="75" y="665" width="1" height="3" fill="#000"/>
<text x="74.4" y="676.9" textLength="55.6" lengthAdjust="spacingAndGlyphs">16 Nov 12:00</text>
<rect x="139" y="665" width="1" height="3" fill="#000"/>
<text x="138.4" y="676.9" textLength="55.6" lengthAdjust="spacingAndGlyphs">17 Nov 20:00</text>
<rect x="203" y="665" width="1" height="3" fill="#000"/>
<text x="202.4" y="676.9" textLength="55.6" lengthAdjust="spacingAndGlyphs">19 Nov 04:00</text>
<rect x="267" y="665" width="1" height="3" fill="#000"/>
<text x="266.4" y="676.9" textLength="55.6" lengthAdjust="spacingAndGlyphs">22 Nov 12:00</text>
<rect x="331" y="665" width="1" height="3" fill="#000"/>
<text x="330.4" y="676.9" textLength="55.6" lengthAdjust="spacingAndGlyphs">23 Nov 20:00</text>
<rect x="395" y="665" width="1" height="3" fill="#000"/>
<text x="394.4" y="676.9" textLength="55.6" lengthAdjust="spacingAndGlyphs">25 Nov 04:00</text>
<rect x="459" y="665" width="1" height="3" fill="#000"/>
<text x="458.4" y="676.9" textLength="55.6" lengthAdjust="spacingAndGlyphs">26 Nov 12:00</text>
<rect x="523" y="665" width="1" height="3" fill="#000"/>
<text x="522.4" y="676.9" textLength="55.6" lengthAdjust="spacingAndGlyphs">29 Nov 20:00</text>
<rect x="587" y="665" width="1" height="3" fill="#000"/>
<text x="586.4" y="676.9" textLength="48.6" lengthAdjust="spacingAndGlyphs">1 Dec 04:00</text>
<rect x="651" y="665" width="1" height="3" fill="#000"/>
<text x="650.4" y="676.9" textLength="48.6" lengthAdjust="spacingAndGlyphs">2 Dec 12:00</text>
<rect x="715" y="665" width="1" height="3" fill="#000"/>
<text x="714.4" y="676.9" textLength="48.6" lengthAdjust="spacingAndGlyphs">5 Dec 23:00</text>
<rect x="779" y="665" width="1" height="3" fill="#000"/>
<text x="778.4" y="676.9" textLength="48.6" lengthAdjust="spacingAndGlyphs">7 Dec 04:00</text>
<rect x="843" y="665" width="1" height="3" fill="#000"/>
<text x="842.4" y="676.9" textLength="48.6" lengthAdjust="spacingAndGlyphs">8 Dec 12:00</text>
<rect x="907" y="665" width="1" height="3" fill="#000"/>
<text x="906.4" y="676.9" textLength="48.6" lengthAdjust="spacingAndGlyphs">9 Dec 20:00</text>
</svg>
</body></html>
